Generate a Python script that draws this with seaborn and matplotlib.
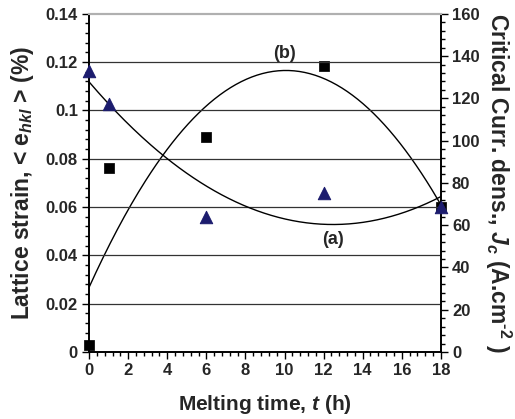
import numpy as np
import pandas as pd
import matplotlib
matplotlib.use("Agg")
import matplotlib.pyplot as plt
from matplotlib.ticker import MultipleLocator, FuncFormatter
import seaborn as sns

# meetpunten
t_strain = [0, 1, 6, 12, 18]
strain = [0.1163, 0.1025, 0.0558, 0.0658, 0.0600]

t_jc = [0, 1, 6, 12, 18]
jc = [3.3, 87.1, 101.9, 135.2, 68.6]

x_ticks = [0, 2, 4, 6, 8, 10, 12, 14, 16, 18]
left_ticks = [0, 0.02, 0.04, 0.06, 0.08, 0.1, 0.12, 0.14]
right_ticks = [0, 20, 40, 60, 80, 100, 120, 140, 160]

sns.set_style("white")
plt.rcParams["font.family"] = ["Liberation Sans", "DejaVu Sans"]
plt.rcParams["font.weight"] = "bold"
plt.rcParams["mathtext.fontset"] = "custom"
plt.rcParams["mathtext.rm"] = "Liberation Sans:bold"
plt.rcParams["mathtext.it"] = "Liberation Sans:italic:bold"
plt.rcParams["mathtext.bf"] = "Liberation Sans:bold"

df_s = pd.DataFrame({"t": t_strain, "v": strain})
df_j = pd.DataFrame({"t": t_jc, "v": jc})

# polynomiale trendlijnen (2e graad), zoals in Excel
t_fit = np.linspace(0, 18, 200)
fit_a = np.polyval(np.polyfit(t_strain, strain, 2), t_fit)
fit_b = np.polyval(np.polyfit(t_jc, jc, 2), t_fit)

fig = plt.figure(figsize=(5.15, 4.19), dpi=100)
ax = fig.add_axes([0.173, 0.160, 0.683, 0.807])
ax2 = ax.twinx()

for y in left_ticks[1:-1]:
    ax.axhline(y, color="#333333", lw=0.9, zorder=0)

sns.lineplot(x=t_fit, y=fit_a, ax=ax, color="black", lw=1.0, zorder=2)
sns.scatterplot(data=df_s, x="t", y="v", ax=ax, marker="^", s=80,
                color="#1c1c6e", edgecolor="#1c1c6e", zorder=3, clip_on=False)

sns.lineplot(x=t_fit, y=fit_b, ax=ax2, color="black", lw=1.0, zorder=2)
sns.scatterplot(data=df_j, x="t", y="v", ax=ax2, marker="s", s=42,
                color="black", edgecolor="black", zorder=4, clip_on=False)

ax.set_xlim(0, 18)
ax.set_ylim(0, 0.14)
ax2.set_ylim(0, 160)

ax.set_xticks(x_ticks)
ax.set_yticks(left_ticks)
ax2.set_yticks(right_ticks)
ax.xaxis.set_minor_locator(MultipleLocator(0.4))
ax.yaxis.set_minor_locator(MultipleLocator(0.004))
ax2.yaxis.set_minor_locator(MultipleLocator(4))
ax.yaxis.set_major_formatter(FuncFormatter(lambda v, p: f"{v:g}"))

for a in (ax, ax2):
    a.tick_params(which="major", direction="out", length=5, width=1,
                  labelsize=12, color="black", pad=3)
    a.tick_params(which="minor", direction="out", length=3, width=1,
                  color="black")
    for sp in a.spines.values():
        sp.set_color("black")
        sp.set_linewidth(1.2)
    a.spines["top"].set_color("#b0b0b0")
    a.spines["top"].set_linewidth(1.5)
ax.tick_params(axis="x", which="both", bottom=True)
ax.tick_params(axis="y", which="both", left=True)
ax2.tick_params(axis="y", which="both", right=True)

ax.set_xlabel(r"Melting time, $t$ (h)", fontsize=15, fontweight="bold", labelpad=11)
ax.set_ylabel(r"Lattice strain, < e$_{hkl}$ > (%)", fontsize=16.5,
              fontweight="bold", labelpad=7)
ax2.set_ylabel(r"Critical Curr. dens., $J_{c}$ (A.cm$^{\mathrm{\text{-}2}}$ )",
               fontsize=16.5, fontweight="bold", rotation=270, labelpad=24)

ax.text(10, 0.1235, "(b)", ha="center", va="center", fontsize=13, fontweight="bold")
ax.text(12.5, 0.0467, "(a)", ha="center", va="center", fontsize=13, fontweight="bold")

ax.set_zorder(ax2.get_zorder() + 1)
ax.patch.set_visible(False)

fig.savefig("out.png", dpi=100)
